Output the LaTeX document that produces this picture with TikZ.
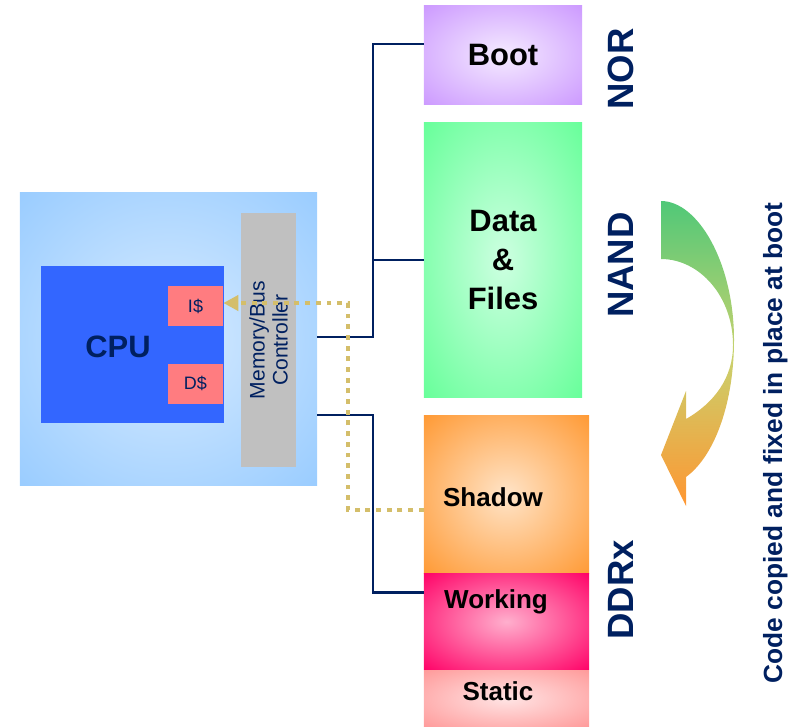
\documentclass[tikz,border=0pt]{standalone}
\usepackage{fontspec}
\setmainfont{Liberation Sans}
\usetikzlibrary{arrows.meta,positioning,calc}
\definecolor{navy}{RGB}{0,32,96}
\definecolor{cpuout}{RGB}{153,204,255}
\definecolor{cpuin}{RGB}{215,235,255}
\definecolor{cpublue}{RGB}{51,102,255}
\definecolor{cachepink}{RGB}{255,124,128}
\definecolor{ctrlgray}{RGB}{192,192,192}
\definecolor{bootout}{RGB}{204,153,255}
\definecolor{bootin}{RGB}{245,235,255}
\definecolor{dataout}{RGB}{102,255,153}
\definecolor{datain}{RGB}{205,255,225}
\definecolor{shadowout}{RGB}{255,153,51}
\definecolor{shadowin}{RGB}{255,228,200}
\definecolor{workout}{RGB}{255,0,102}
\definecolor{workin}{RGB}{255,175,205}
\definecolor{staticout}{RGB}{255,153,153}
\definecolor{staticin}{RGB}{255,228,228}
\definecolor{dotkhaki}{RGB}{212,190,106}
\definecolor{arrgreen}{RGB}{80,200,120}
\definecolor{arryellow}{RGB}{200,210,110}
\definecolor{arrorange}{RGB}{255,150,50}
\colorlet{glowin}{white}
\colorlet{glowout}{white}
\pgfdeclareradialshading[glowin,glowout]{glow}{\pgfpointorigin}{color(0bp)=(glowin); color(36bp)=(glowout); color(50bp)=(glowout)}
\tikzset{
  glow in/.code={\colorlet{glowin}{#1}},
  glow out/.code={\colorlet{glowout}{#1}},
  membox/.style 2 args={shading=glow, glow in=#1, glow out=#2, inner sep=0pt},
}

\begin{document}
\begin{tikzpicture}[x=0.025cm,y=-0.025cm,
  bigtext/.style={font=\bfseries\fontsize{22}{27.7}\selectfont},
  midtext/.style={font=\bfseries\fontsize{18.5}{22}\selectfont},
  side/.style={font=\bfseries\fontsize{26}{30}\selectfont, text=navy, rotate=90, anchor=base},
  cache/.style={fill=cachepink, minimum width=1.375cm, minimum height=1cm, inner sep=0pt,
    text=navy, font=\fontsize{12.8}{15}\selectfont},
  bus/.style={draw=navy, line width=1.7pt},
  copyline/.style={draw=dotkhaki, line width=3.5pt, dash pattern=on 3.5pt off 4.1pt,
    -{Triangle[length=10.7pt,width=10.7pt]}}]
\useasboundingbox (0,0) rectangle (794,726);

% CPU side
\node[membox={cpuin}{cpuout}, minimum width=7.425cm, minimum height=7.3cm] (cpubox) at (168.5,339) {};
\node[fill=cpublue, minimum width=4.575cm, minimum height=3.925cm, inner sep=0pt] (cpu) at (132.5,344.5) {};
\node[bigtext, text=navy, anchor=base] (cputext) at (118,357) {CPU};
\node[cache] (icache) at (195.5,306) {I\$};
\node[cache] (dcache) at (195.5,383.5) {D\$};
\node[fill=ctrlgray, rotate=90, minimum width=6.35cm, minimum height=1.375cm, inner sep=0pt,
  align=center, text=navy, font=\fontsize{15}{16.4}\selectfont] (ctrl) at (268.5,340) {Memory/Bus\\Controller};

% memories
\node[membox={bootin}{bootout}, minimum width=3.95cm, minimum height=2.45cm, bigtext] (boot) at (503,55) {Boot};
\node[membox={datain}{dataout}, minimum width=3.95cm, minimum height=6.85cm, bigtext, align=center] (data) at (503,260) {Data\\\&\\Files};
\node[membox={shadowin}{shadowout}, minimum width=4.125cm, minimum height=3.925cm] (shadow) at (506.5,494.5) {};
\node[membox={workin}{workout}, minimum width=4.125cm, minimum height=2.4cm, below=0pt of shadow] (working) {};
\node[membox={staticin}{staticout}, minimum width=4.125cm, minimum height=1.425cm, below=0pt of working] (static) {};
\node[midtext, anchor=base] (shadowlbl) at (493,506) {Shadow};
\node[midtext, anchor=base] (workinglbl) at (496,608) {Working};
\node[midtext, anchor=base] (staticlbl) at (498,700) {Static};

% labels
\node[side] (nor) at (633,69) {NOR};
\node[side] (nand) at (633,265) {NAND};
\node[side] (ddrx) at (633,590) {DDRx};
\node[font=\bfseries\fontsize{18.7}{22}\selectfont, text=navy, rotate=90, anchor=base] (note) at (782,443) {Code copied and fixed in place at boot};

% buses
\coordinate (busA) at (373,337);
\coordinate (busB) at (373,415);
\draw[bus] (cpubox.east |- busA) -- (busA) |- ([yshift=7.8pt]boot.west);
\draw[bus] (busA |- data.west) -- (data.west);
\draw[bus] (cpubox.east |- busB) -- (busB) |- ([yshift=20.6pt]working.west);

% copy path
\coordinate (dotA) at (348,303);
\draw[copyline] ([yshift=-11pt]shadow.west) -| (dotA) -- (icache.east |- dotA);

% curved arrow
\shade[top color=arrgreen, bottom color=arrorange, middle color=arryellow]
  (661,201) .. controls (698,201) and (734,263) .. (734,340)
  .. controls (734,400) and (716,455) .. (686,477)
  -- (686,506) -- (661,455) -- (686,391) -- (686,419)
  .. controls (714,403) and (733,378) .. (733,345)
  .. controls (733,297) and (700,259) .. (661,259) -- cycle;
\end{tikzpicture}
\end{document}
